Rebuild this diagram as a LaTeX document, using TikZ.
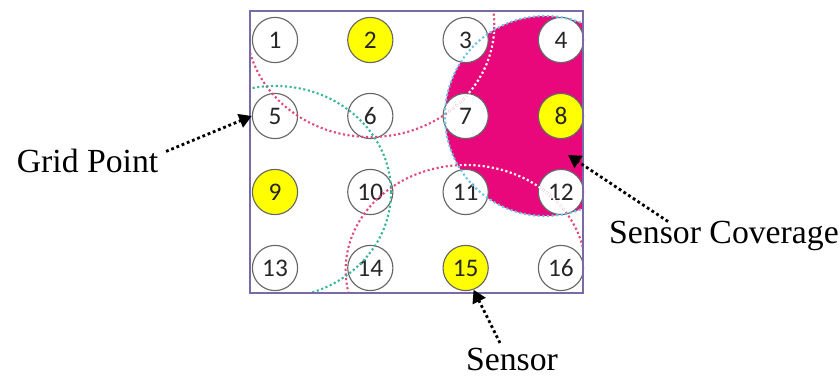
\documentclass[tikz,border=0pt]{standalone}
\usepackage{fontspec}
\setmainfont{Liberation Serif}
\newfontfamily\numfont{Carlito}
\usetikzlibrary{positioning,arrows.meta,backgrounds}
\definecolor{covmag}{HTML}{E8087C}
\definecolor{covpink}{HTML}{E2487E}
\definecolor{covteal}{HTML}{3BB49C}
\definecolor{covblue}{HTML}{6CC3E6}
\definecolor{framepurple}{HTML}{7A6AA8}
\definecolor{sensyellow}{HTML}{FFFF00}
\begin{document}
\begin{tikzpicture}[node distance={1.9cm and 2.383cm}, on grid,
    main/.style = {draw=black!60, circle, thick, fill=white, minimum size=1.13cm, inner sep=0pt, font=\numfont\fontsize{18}{18}\selectfont, text=black!85},
    sensor/.style = {main, fill=sensyellow},
    reach/.style = {line width=1.5pt, dash pattern=on 1.5pt off 1.8pt},
    pointer/.style = {line width=2pt, dash pattern=on 2pt off 2pt, -{Triangle[length=9pt,width=10pt]}},
    note/.style = {font=\fontsize{24}{28}\selectfont, inner sep=1pt}]
    \useasboundingbox (0,0) rectangle (21,9.525);
    % grid points
    \node[main] (1) at (6.875,8.525) {1};
    \node[sensor] (2) [right=of 1] {2};
    \node[main] (3) [right=of 2] {3};
    \node[main] (4) [right=of 3] {4};
    \node[main] (5) [below=of 1] {5};
    \node[main] (6) [right=of 5] {6};
    \node[main] (7) [right=of 6] {7};
    \node[sensor] (8) [right=of 7] {8};
    \node[sensor] (9) [below=of 5] {9};
    \node[main] (10) [right=of 9] {10};
    \node[main] (11) [right=of 10] {11};
    \node[main] (12) [right=of 11] {12};
    \node[main] (13) [below=of 9] {13};
    \node[main] (14) [right=of 13] {14};
    \node[sensor] (15) [right=of 14] {15};
    \node[main] (16) [right=of 15] {16};
    \coordinate (nw) at (6.25,9.25);
    \coordinate (se) at (14.575,2.2);
    % coverage area
    \begin{scope}[on background layer]
        \clip (nw) rectangle (se);
        \fill[covmag] (8) ++(-0.4,0) circle (2.5);
    \end{scope}
    \begin{scope}
        \clip (nw) rectangle (se);
        \draw[reach, covpink] (2) ++(0,0.375) ellipse (3.1 and 2.8);
        \draw[reach, covpink] (15) ++(0,-0.05) ellipse (3.0 and 2.625);
        \draw[reach, covteal] (9) ellipse (2.9 and 2.65);
        \draw[reach, covblue] (8) ++(-0.4,0) circle (2.5);
    \end{scope}
    \begin{scope}
        \clip (8) ++(-0.4,0) circle (2.45);
        \draw[reach, white] (2) ++(0,0.375) ellipse (3.1 and 2.8);
        \draw[reach, white] (15) ++(0,-0.05) ellipse (3.0 and 2.625);
    \end{scope}
    \draw[framepurple, line width=1.2pt] (nw) rectangle (se);
    % labels
    \node[note] (gp) at (2.19,5.5) {Grid Point};
    \node[note] (sc) at (18.1,3.625) {Sensor Coverage};
    \node[note, anchor=base] (sn) at (12.8,0.25) {Sensor};
    \coordinate (hit) at (14.2,5.65);
    \draw[pointer] ([xshift=0.15cm,yshift=-0.1cm]gp.north east) -- (5.west);
    \draw[pointer] ([xshift=-1.4cm,yshift=-0.05cm]sc.north) -- (hit);
    \draw[pointer] ([xshift=-0.3cm,yshift=0.1cm]sn.north) -- (15.-70);
\end{tikzpicture}
\end{document}
